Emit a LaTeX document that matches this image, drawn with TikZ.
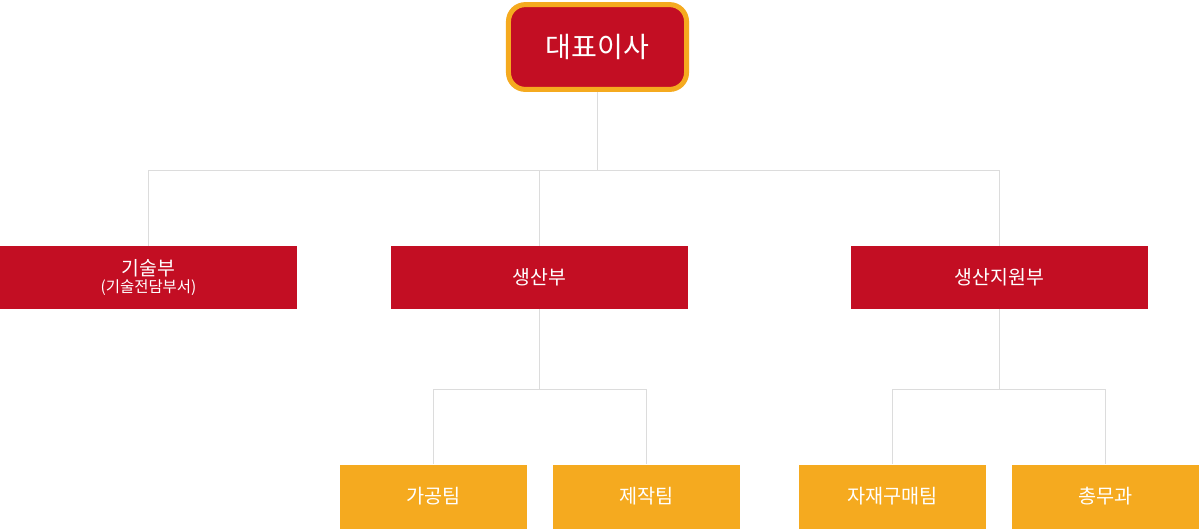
\documentclass[tikz,border=0pt]{standalone}
\usepackage{fontspec}
\setmainfont{Noto Sans CJK KR}
\definecolor{deptred}{HTML}{C30E23}
\definecolor{teamorange}{HTML}{F5AA1F}
\definecolor{linkgray}{HTML}{DCDCDC}
\tikzset{
  ceobox/.style={draw=teamorange, line width=0.125cm, fill=deptred, rounded corners=0.42cm,
    minimum width=4.45cm, minimum height=2.12cm, text=white, font=\fontsize{20}{24}\selectfont},
  deptbox/.style={fill=deptred, minimum width=7.425cm, minimum height=1.575cm,
    text=white, align=center, font=\fontsize{13.8}{15}\selectfont},
  teambox/.style={fill=teamorange, minimum width=4.675cm, minimum height=1.6cm,
    text=white, font=\fontsize{14}{16}\selectfont},
  link/.style={draw=linkgray, line width=0.7pt}
}
\begin{document}
\begin{tikzpicture}[x=0.025cm, y=-0.025cm]
    \useasboundingbox (0,0) rectangle (1200,529);
    % top
    \node[ceobox] (ceo) at (597.5,47) {대표이사};
    % departments
    \node[deptbox] (tech) at (148.5,277.5) {기술부\\[-3pt]{\fontsize{11}{12}\selectfont (기술전담부서)}};
    \node[deptbox] (prod) at (539.5,277.5) {생산부};
    \node[deptbox] (supp) at (999.5,277.5) {생산지원부};
    % teams
    \node[teambox] (proc) at (433.5,496.5) {가공팀};
    \node[teambox] (make) at (646.5,496.5) {제작팀};
    \node[teambox] (buy) at (892.5,496.5) {자재구매팀};
    \node[teambox] (admin) at (1105.5,496.5) {총무과};
    % connectors
    \coordinate (split1) at (597.5,170);
    \coordinate (split2) at (539.5,389);
    \coordinate (split3) at (999.5,389);
    \draw[link] (ceo.south) -- (split1);
    \draw[link] (tech.north) |- (split1) -| (supp.north);
    \draw[link] (prod.north) -- (prod.north |- split1);
    \draw[link] (prod.south) -- (split2);
    \draw[link] (proc.north) |- (split2) -| (make.north);
    \draw[link] (supp.south) -- (split3);
    \draw[link] (buy.north) |- (split3) -| (admin.north);
\end{tikzpicture}
\end{document}
